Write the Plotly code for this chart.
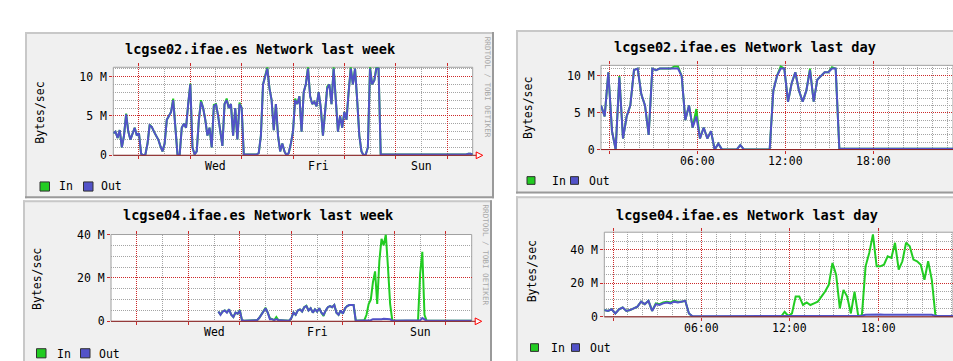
import numpy as np
import plotly.graph_objects as go

W, H = 953, 361

# ---------------- data (MB/s) ----------------
# week panels: hourly samples, x in days from Monday 12:00
week_hours = np.arange(169)
# day panels: 15-minute samples, x in hours relative to midnight
day_hours = -0.6 + 0.25 * np.arange(97)

se02_week_out = [2.8, 3.0, 2.2, 3.2, 1.0, 2.5, 5.2, 3.0, 2.0, 2.8, 3.5, 2.5, 2.8,
                 0.2, 0.0, 0.1, 1.5, 3.8, 3.6, 3.0, 2.5, 2.0, 1.2, 0.5, 1.5,
                 4.5, 5.0, 5.5, 7.0, 4.0, 0.1, 0.0, 3.5, 4.0, 3.5, 6.5, 9.0,
                 1.0, 0.1, 0.5, 4.5, 6.8, 6.0, 4.5, 2.5, 3.5, 1.0, 6.2, 6.5,
                 5.0, 3.0, 1.2, 6.5, 7.0, 6.0, 6.5, 2.5, 6.0, 2.0, 6.5, 6.0,
                 0.1, 0.1, 0.1, 0.1, 0.1, 0.1, 0.1, 0.3, 2.5, 9.0, 10.0, 11.0,
                 8.5, 7.0, 3.2, 6.5, 2.5, 0.5, 1.5, 0.5, 0.0, 0.3, 1.5, 3.0,
                 7.0, 6.5, 7.5, 3.0, 8.0, 9.0, 11.0, 7.5, 6.5, 6.8, 6.2, 8.0,
                 6.0, 2.5, 5.5, 8.5, 9.0, 6.5, 11.0, 7.0, 3.0, 5.0, 3.5, 5.5,
                 4.5, 8.0, 11.0, 9.0, 11.0, 7.0, 2.5, 0.5, 0.0, 0.1, 1.0, 11.0,
                 9.0, 9.5, 11.0, 11.0,
                 0.1, 0.1, 0.1, 0.1, 0.1, 0.1, 0.1, 0.1, 0.1, 0.1, 0.1,
                 0.1, 0.1, 0.1, 0.1, 0.1, 0.1, 0.1, 0.1, 0.1, 0.1, 0.1,
                 0.1, 0.1, 0.1, 0.1, 0.1, 0.1, 0.1, 0.1, 0.1, 0.1, 0.1,
                 0.1, 0.1, 0.1, 0.1, 0.1, 0.1, 0.1, 0.1, 0.2, 0.2, 0.1]
se02_week_in = [2.8, 3.0, 2.2, 3.2, 1.0, 2.5, 5.3, 3.0, 2.0, 2.8, 3.5, 2.5, 2.8,
                0.2, 0.0, 0.1, 1.5, 3.9, 3.6, 3.0, 2.5, 2.0, 1.2, 0.5, 1.5,
                4.5, 5.0, 5.5, 7.2, 4.0, 0.1, 0.0, 3.5, 4.0, 3.5, 6.5, 9.1,
                1.0, 0.1, 0.5, 4.5, 7.0, 6.0, 4.5, 2.5, 3.5, 1.0, 6.4, 6.5,
                5.0, 3.0, 1.2, 6.5, 7.2, 6.0, 6.5, 2.5, 6.0, 2.0, 6.7, 6.0,
                0.1, 0.1, 0.1, 0.1, 0.1, 0.1, 0.1, 0.3, 2.5, 9.0, 10.0, 11.2,
                8.5, 7.0, 3.2, 6.5, 2.5, 0.5, 1.5, 0.5, 0.0, 0.3, 1.5, 3.0,
                7.2, 6.5, 7.5, 3.0, 8.0, 9.0, 11.2, 7.5, 6.5, 6.8, 6.2, 8.0,
                6.0, 2.5, 5.5, 8.7, 9.0, 6.5, 11.2, 7.0, 3.0, 5.0, 3.5, 5.5,
                4.5, 8.0, 11.2, 9.0, 11.0, 7.0, 2.5, 0.5, 0.0, 0.1, 1.0, 11.2,
                9.0, 9.5, 11.2, 11.0,
                0.1, 0.1, 0.1, 0.1, 0.1, 0.1, 0.1, 0.1, 0.1, 0.1, 0.1,
                0.1, 0.1, 0.1, 0.1, 0.1, 0.1, 0.1, 0.1, 0.1, 0.1, 0.1,
                0.1, 0.1, 0.1, 0.1, 0.1, 0.1, 0.1, 0.1, 0.1, 0.1, 0.1,
                0.1, 0.1, 0.1, 0.1, 0.1, 0.1, 0.1, 0.1, 0.2, 0.2, 0.1]

se02_day_out = [6.0, 4.5, 10.5, 2.5, 0.0, 9.8, 1.5, 4.5, 6.0, 10.8, 11.0, 7.5, 6.0,
                2.0, 11.0, 10.8, 11.0, 11.0, 11.0, 11.0, 11.0, 11.0, 10.0, 4.0, 6.0,
                3.0, 4.5, 1.5, 3.0, 1.5, 2.5, 0.0, 0.8, 0.0, 0.0, 0.0, 0.0,
                0.0, 0.6, 0.0, 0.0, 0.0, 0.0, 0.0, 0.0, 0.0, 0.0, 8.0, 10.0,
                11.0, 11.0, 6.5, 9.0, 10.5, 8.0, 6.5, 8.0, 10.8, 6.5, 9.5, 10.0,
                10.5, 10.5, 11.0, 11.0,
                0.1, 0.1, 0.1, 0.1, 0.1, 0.1, 0.1, 0.1, 0.1, 0.1, 0.1,
                0.1, 0.1, 0.1, 0.1, 0.1, 0.1, 0.1, 0.1, 0.1, 0.1, 0.1,
                0.1, 0.1, 0.1, 0.1, 0.1, 0.1, 0.1, 0.1, 0.1, 0.1]
se02_day_in = [6.0, 4.5, 10.5, 2.5, 0.0, 10.0, 1.5, 4.5, 6.0, 10.8, 11.0, 7.5, 6.0,
               2.0, 11.0, 10.8, 11.0, 11.0, 11.0, 11.0, 11.3, 11.3, 10.0, 4.0, 6.0,
               3.0, 5.5, 1.5, 3.0, 1.5, 2.5, 0.0, 0.8, 0.0, 0.0, 0.0, 0.0,
               0.0, 0.6, 0.0, 0.0, 0.0, 0.0, 0.0, 0.0, 0.0, 0.0, 8.0, 10.0,
               11.3, 11.0, 6.5, 9.0, 10.5, 8.0, 6.5, 8.0, 11.0, 6.5, 9.5, 10.0,
               10.5, 10.5, 11.2, 11.0,
               0.1, 0.1, 0.1, 0.1, 0.1, 0.1, 0.1, 0.1, 0.1, 0.1, 0.1,
               0.1, 0.1, 0.1, 0.1, 0.1, 0.1, 0.1, 0.1, 0.1, 0.1, 0.1,
               0.1, 0.1, 0.1, 0.1, 0.1, 0.1, 0.1, 0.1, 0.1, 0.1]

N = None
se04_week_out = [N] * 50 + [
    4.5, 3.0, 4.5, 5.0, 4.0, 5.5, 3.0, 2.0, 4.0, 3.5, 5.0, 0.5,
    0.3, 0.3, 0.3, 0.3, 0.3, 0.3,
    0.5, 1.5, 3.0, 4.5, 6.0, 4.0, 1.0, 1.0, 0.5, 1.0, 0.5, 0.5, 0.5, 0.5, 0.3, 0.3,
    1.5, 4.0, 3.0, 5.0, 5.5, 4.5, 6.5, 7.0, 5.0, 6.0, 4.0, 5.5, 4.5, 6.0, 4.0, 3.0,
    5.0, 6.5, 7.0, 6.5, 7.5, 4.0, 3.0, 5.0, 3.5, 6.0, 7.0, 7.5, 7.5, 7.5,
    0.3, 0.3, 0.3, 0.3, 0.3, 0.3,
    0.5, 0.5, 1.0, 1.0, 0.8, 1.0, 1.0, 1.2, 1.2, 1.2, 1.0,
    0.3, 0.3, 0.3, 0.3, 0.3, 0.3, 0.3, 0.3, 0.3, 0.3, 0.3, 0.3, 0.3,
    0.5, 1.5, 0.8,
    0.3, 0.3, 0.3, 0.3, 0.3, 0.3, 0.3, 0.3, 0.3, 0.3, 0.3,
    0.3, 0.3, 0.3, 0.3, 0.3, 0.3, 0.3, 0.3, 0.3, 0.3, 0.3]
se04_week_in = [N] * 50 + [
    4.5, 3.2, 4.5, 5.0, 4.2, 5.5, 3.0, 2.0, 4.0, 3.5, 5.2, 0.5,
    0.3, 0.3, 0.3, 0.3, 0.3, 0.3,
    0.5, 1.5, 3.0, 4.5, 6.2, 4.0, 1.5, 1.0, 0.5, 2.0, 0.5, 0.5, 0.5, 0.5, 0.3, 0.3,
    1.5, 4.0, 3.0, 5.0, 5.5, 4.5, 6.5, 7.2, 5.0, 6.0, 4.0, 5.5, 4.5, 6.0, 4.0, 2.5,
    5.0, 6.5, 7.0, 6.5, 7.5, 4.0, 3.0, 5.0, 3.5, 6.0, 7.0, 7.5, 7.5, 7.5,
    0.3, 0.3, 0.3, 0.3, 0.5,
    3.0, 8.0, 10.0, 18.0, 23.0, 8.0, 28.0, 38.0, 35.0, 40.0, 25.0, 8.0, 0.5,
    0.3, 0.3, 0.3, 0.3, 0.3, 0.3, 0.3, 0.3, 0.3, 0.3, 0.3, 0.3,
    22.0, 32.0, 3.0,
    0.3, 0.3, 0.3, 0.3, 0.3, 0.3, 0.3, 0.3, 0.3, 0.3, 0.3,
    0.3, 0.3, 0.3, 0.3, 0.3, 0.3, 0.3, 0.3, 0.3, 0.3, 0.3]

se04_day_out = [4.0, 3.5, 4.5, 2.0, 4.5, 5.5, 3.5, 4.0, 5.0, 6.0, 9.0, 7.5, 9.5,
                3.5, 7.5, 7.0, 8.0, 8.5, 8.0, 9.0, 8.5, 9.0, 9.5, 2.0,
                0.3, 0.3, 0.3, 0.3, 0.3, 0.3, 0.3, 0.3, 0.3, 0.3, 0.3, 0.3, 0.3, 0.3,
                0.3, 0.3, 0.3, 0.3, 0.3, 0.3, 0.3, 0.3, 0.3, 0.3, 0.3, 0.3, 0.3, 0.3,
                0.6, 0.6, 0.7, 0.6, 0.6, 0.7, 0.6, 0.6, 0.7, 0.6, 0.6, 0.7, 0.6, 0.6,
                0.7, 0.6, 0.6, 0.7, 0.6,
                1.2, 1.3, 1.2, 1.2, 1.4, 1.2, 1.2, 1.3, 1.2, 1.2, 1.4, 1.2, 1.2, 1.3,
                1.2, 1.2, 1.3, 1.2, 1.2,
                0.5, 0.5, 0.5, 0.5, 0.5, 0.5, 0.5]
se04_day_in = [4.0, 3.5, 4.5, 2.0, 4.5, 5.5, 3.5, 4.0, 5.0, 6.0, 9.0, 7.5, 9.5,
               3.5, 8.0, 7.5, 8.5, 9.0, 8.5, 9.5, 9.0, 9.0, 9.5, 2.0,
               0.0, 0.0, 0.0, 0.0, 0.0, 0.0, 0.0, 0.0, 0.0, 0.0, 0.0, 0.0,
               0.0, 0.0, 0.0, 0.0, 0.0, 0.0, 0.0, 0.0, 0.0, 0.0, 0.0, 0.0,
               0.0, 3.0, 0.5, 2.0, 12.0, 12.0, 7.0, 8.5, 7.0, 8.0, 9.0, 12.0,
               15.0, 19.0, 32.0, 25.0, 5.0, 16.0, 12.0, 2.0, 15.0, 0.5, 1.0,
               30.0, 38.0, 49.0, 30.0, 30.0, 31.0, 36.0, 35.0, 44.0, 28.0, 33.0,
               44.0, 42.0, 34.0, 33.0, 31.0, 22.0, 33.0, 22.0,
               0.3, 0.3, 0.3, 0.3, 0.3, 0.3, 0.3]

week_tick_labels = ["Wed", "Fri", "Sun"]
week_tick_days = [2, 4, 6]
day_tick_labels = ["06:00", "12:00", "18:00"]
day_tick_hours = [6, 12, 18]

# ---------------- styling ----------------
IN_C = "#22cc22"
OUT_C = "#5252c8"
MAJ = "#cc2a2a"
MIN = "#a4a4a4"
AXIS_C = "#902020"
MONO = "DejaVu Sans Mono"


def fx(px):
    return px / W


def fy(py):
    return 1 - py / H


panels = [  # x0, y0, x1, y1 (pixels)
    (25, 26, 494, 199),
    (516, 24, 965, 194),
    (23, 201, 492, 372),
    (516, 197, 965, 372),
]
plots = [  # plot area in pixels: left, top, right, bottom
    (113.3, 62.7, 472.7, 154.3),
    (601.0, 60.7, 953.0, 148.3),
    (111.0, 236.7, 471.7, 327.0),
    (604.3, 234.3, 953.0, 322.3),
]

fig = go.Figure()

x_week = week_hours / 24.0
series = [
    (x_week, se02_week_in, se02_week_out, "x", "y"),
    (day_hours, se02_day_in, se02_day_out, "x2", "y2"),
    (x_week, se04_week_in, se04_week_out, "x3", "y3"),
    (day_hours, se04_day_in, se04_day_out, "x4", "y4"),
]
for xs, vin, vout, xa, ya in series:
    fig.add_trace(go.Scatter(x=xs, y=vin, mode="lines", line=dict(color=IN_C, width=2),
                             xaxis=xa, yaxis=ya, showlegend=False, connectgaps=False,
                             hoverinfo="skip"))
    fig.add_trace(go.Scatter(x=xs, y=vout, mode="lines", line=dict(color=OUT_C, width=2),
                             xaxis=xa, yaxis=ya, showlegend=False, connectgaps=False,
                             hoverinfo="skip"))

yranges = [11.17, 11.44, 40.0, 50.3]
xranges = [[0, 7], [-0.6, 23.4], [0, 7], [-0.6, -0.6 + (953 - 604.3) / 14.72]]
ytickv = [[0, 5, 10], [0, 5, 10], [0, 20, 40], [0, 20, 40]]
ytickt = [["0", "5 M", "10 M"], ["0", "5 M", "10 M"], ["0", "20 M", "40 M"], ["0", "20 M", "40 M"]]
yminor = [1, 1, 5, 5]

layout = dict(width=W, height=H, margin=dict(l=0, r=0, t=0, b=0), autosize=False,
              paper_bgcolor="white", plot_bgcolor="rgba(0,0,0,0)", showlegend=False)

DASH = "1px,1px"
for i in range(4):
    L, T, R, B = plots[i]
    sfx = "" if i == 0 else str(i + 1)
    week = i in (0, 2)
    xa = dict(domain=[fx(L), fx(R)], range=xranges[i], anchor="y" + sfx,
              showline=False, zeroline=False, ticks="outside", ticklen=3,
              tickcolor=MAJ, tickwidth=1, mirror="ticks",
              showgrid=True, gridcolor=MAJ, griddash=DASH, gridwidth=1,
              showticklabels=False, fixedrange=True,
              minor=dict(tickmode="linear", tick0=0, dtick=1, showgrid=True,
                         gridcolor=MIN, griddash=DASH, gridwidth=1))
    if week:
        xa.update(tickmode="array", tickvals=[0.5, 1.5, 2.5, 3.5, 4.5, 5.5, 6.5])
    else:
        xa.update(tickmode="array", tickvals=[0, 6, 12, 18])
    ya = dict(domain=[fy(B), fy(T)], range=[0, yranges[i]], anchor="x" + sfx,
              showline=False, zeroline=False, ticks="outside", ticklen=3,
              tickcolor=MAJ, tickwidth=1,
              tickmode="array", tickvals=ytickv[i], ticktext=ytickt[i],
              showgrid=True, gridcolor=MAJ, griddash=DASH, gridwidth=1,
              minor=dict(tickmode="linear", tick0=0, dtick=yminor[i], showgrid=True,
                         gridcolor=MIN, griddash=DASH, gridwidth=1),
              tickfont=dict(family=MONO, size=11.5, color="black"), fixedrange=True)
    layout["xaxis" + sfx] = xa
    layout["yaxis" + sfx] = ya


def prect(x0, y0, x1, y1, **kw):
    return dict(type="rect", xref="paper", yref="paper", x0=fx(x0), x1=fx(x1),
                y0=fy(y1), y1=fy(y0), **kw)


def pline(x0, y0, x1, y1, color, width, layer):
    return dict(type="line", xref="paper", yref="paper", x0=fx(x0), x1=fx(x1),
                y0=fy(y0), y1=fy(y1), line=dict(color=color, width=width), layer=layer)


shapes = []
for (x0, y0, x1, y1) in panels:
    shapes.append(prect(x0, y0, x1, y1, fillcolor="#f0f0f0", line=dict(width=0), layer="below"))
    shapes.append(pline(x0, y0 + 1, x1, y0 + 1, "#c8c8c8", 2, "below"))
    shapes.append(pline(x0 + 1, y0, x0 + 1, y1, "#c8c8c8", 2, "below"))
    shapes.append(pline(x0, y1 - 1, x1, y1 - 1, "#9a9a9a", 2, "below"))
    shapes.append(pline(x1 - 1, y0, x1 - 1, y1, "#9a9a9a", 2, "below"))
for (L, T, R, B) in plots:
    shapes.append(prect(L, T, R, B, fillcolor="white", line=dict(width=0), layer="below"))
for i, (L, T, R, B) in enumerate(plots):
    shapes.append(prect(L, T, R, B, fillcolor="rgba(0,0,0,0)",
                        line=dict(color="#a0a0a0", width=1), layer="below"))
    shapes.append(pline(L, B, R, B, AXIS_C, 1, "above"))
    if i in (0, 2):
        shapes.append(pline(R, B, R + 4, B, AXIS_C, 1, "above"))
        shapes.append(dict(type="path", xref="paper", yref="paper",
                           path="M {a},{b} L {a},{c} L {d},{e} Z".format(
                               a=fx(R + 3.5), b=fy(B - 3.5), c=fy(B + 3.5),
                               d=fx(R + 10), e=fy(B)),
                           line=dict(color="#ff0000", width=1),
                           fillcolor="rgba(255,255,255,0.6)", layer="above"))

# legend glyphs (pixels: x0, y0, x1, y1)
legend_boxes = [
    ((40, 182, 49.5, 191.5), (83.5, 182, 93, 191.5)),
    ((527, 176.5, 535, 184.5), (570.5, 176.5, 578.5, 184.5)),
    ((36.5, 355.5, 46, 365), (80.5, 355.5, 90, 365)),
    ((530.5, 350.3, 538.5, 358.3), (571.5, 350.3, 579.5, 358.3)),
]
for bi, bo in legend_boxes:
    for b, c in ((bi, IN_C), (bo, OUT_C)):
        shapes.append(prect(b[0], b[1], b[2], b[3], fillcolor=c,
                            line=dict(color="#303030", width=1), layer="above"))
layout["shapes"] = shapes

ann = []
titles = [
    ("lcgse02.ifae.es Network last week", 260, 43.5),
    ("lcgse02.ifae.es Network last day", 745, 41.7),
    ("lcgse04.ifae.es Network last week", 258, 216.7),
    ("lcgse04.ifae.es Network last day", 747, 216.7),
]
for t, x, y in titles:
    ann.append(dict(text="<b>" + t + "</b>", x=fx(x), y=fy(y), xref="paper", yref="paper",
                    showarrow=False, xanchor="center", yanchor="middle",
                    font=dict(family=MONO, size=13.6, color="black")))
ylabels = [(40, 110), (528, 105), (37, 283), (532, 275)]
for x, y in ylabels:
    ann.append(dict(text="Bytes/sec", x=fx(x), y=fy(y), xref="paper", yref="paper",
                    showarrow=False, textangle=-90, xanchor="center", yanchor="middle",
                    font=dict(family=MONO, size=11.5, color="black")))
for i in range(4):
    sfx = "" if i == 0 else str(i + 1)
    if i in (0, 2):
        labs, poss = week_tick_labels, week_tick_days
    else:
        labs, poss = day_tick_labels, day_tick_hours
    for lab, d in zip(labs, poss):
        ann.append(dict(text=lab, x=d, y=0, xref="x" + sfx, yref="y" + sfx, yshift=-11,
                        showarrow=False, xanchor="center", yanchor="middle",
                        font=dict(family=MONO, size=11.5, color="black")))
for x, y in [(487, 84), (485.5, 258)]:
    ann.append(dict(text="RRDTOOL / TOBI OETIKER", x=fx(x), y=fy(y), xref="paper", yref="paper",
                    showarrow=False, textangle=90, xanchor="center", yanchor="middle",
                    font=dict(family=MONO, size=7.6, color="#a8a8a8")))
legend_text = [((57.3, 186.6), (99.3, 186.6)), ((549.5, 180.8), (586.7, 180.8)),
               ((55, 360.5), (96.7, 360.5)), ((549.3, 354.4), (588.3, 354.4))]
for (pi, po) in legend_text:
    for (p, t) in ((pi, "In"), (po, "Out")):
        ann.append(dict(text=t, x=fx(p[0]), y=fy(p[1]), xref="paper", yref="paper",
                        showarrow=False, xanchor="left", yanchor="middle",
                        font=dict(family=MONO, size=11.5, color="black")))
layout["annotations"] = ann

fig.update_layout(**layout)
fig.write_html("out.html", config={"displayModeBar": False},
               post_script="document.body.style.margin='0';document.body.style.overflow='hidden';")
